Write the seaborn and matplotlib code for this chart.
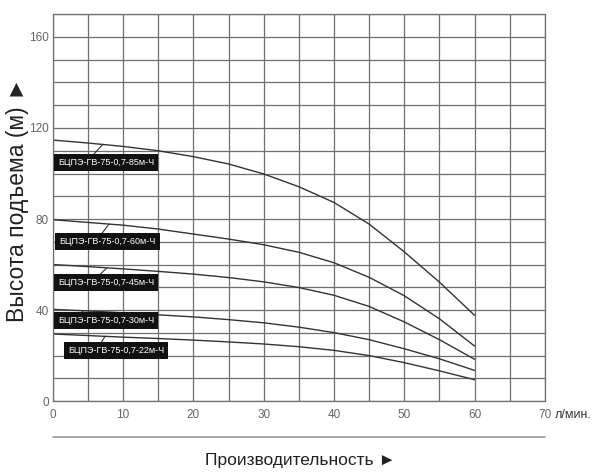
import numpy as np
import matplotlib
matplotlib.use("Agg")
import matplotlib.pyplot as plt
from matplotlib.ticker import MultipleLocator
import pandas as pd
import seaborn as sns

# --- Data (flow l/min -> head m) ---
flow = [0, 5, 10, 15, 20, 25, 30, 35, 40, 45, 50, 55, 60]
head_85 = [114.7, 113.4, 111.9, 110, 107.4, 104.2, 99.8, 94.2, 87.3, 77.8, 65.6, 52.3, 37.7]
head_60 = [79.7, 78.5, 77.3, 75.6, 73.4, 71.2, 68.7, 65.4, 60.8, 54.4, 46.3, 36.2, 24.2]
head_45 = [60, 59.1, 58.1, 57, 55.8, 54.3, 52.4, 49.9, 46.5, 41.6, 34.8, 27, 18.4]
head_30 = [40.3, 39.6, 38.8, 37.9, 37, 35.8, 34.4, 32.5, 30.1, 27, 23, 18.6, 13.5]
head_22 = [29.5, 28.8, 28.1, 27.5, 26.8, 26, 25.1, 23.9, 22.3, 20, 16.9, 13.3, 9.4]

models = ["БЦПЭ-ГВ-75-0,7-85м-Ч", "БЦПЭ-ГВ-75-0,7-60м-Ч", "БЦПЭ-ГВ-75-0,7-45м-Ч",
          "БЦПЭ-ГВ-75-0,7-30м-Ч", "БЦПЭ-ГВ-75-0,7-22м-Ч"]
heads = [head_85, head_60, head_45, head_30, head_22]

# label box centre and leader line (from box -> curve)
label_xy = [(7.6, 105), (7.8, 70), (7.6, 52), (7.6, 35.3), (9.0, 22.4)]
leader = [((5.7, 108), (7.1, 112.8)), ((6.7, 72.5), (8.0, 77.8)),
          ((6.3, 54.5), (7.7, 58.5)), ((3.9, 38.0), (4.3, 39.6)),
          ((6.7, 24.8), (7.4, 28.3))]

df = pd.concat([pd.DataFrame({"flow": flow, "head": h, "model": m})
                for m, h in zip(models, heads)])

sns.set_style("white")
plt.rcParams['font.family'] = ['Liberation Sans', 'DejaVu Sans']

fig = plt.figure(figsize=(6, 4.73), dpi=100)
ax = fig.add_axes([0.088, 0.152, 0.82, 0.818])

sns.lineplot(data=df, x="flow", y="head", units="model", estimator=None,
             color="#333333", linewidth=1.0, ax=ax, legend=False)

ax.set_xlim(0, 70)
ax.set_ylim(0, 170)
ax.xaxis.set_major_locator(MultipleLocator(10))
ax.xaxis.set_minor_locator(MultipleLocator(5))
ax.yaxis.set_major_locator(MultipleLocator(40))
ax.yaxis.set_minor_locator(MultipleLocator(10))
ax.grid(which="both", color="#6e6e6e", linewidth=0.9)
ax.set_axisbelow(True)
for s in ax.spines.values():
    s.set_color("#6e6e6e")
    s.set_linewidth(0.9)
ax.tick_params(which="both", length=0, labelsize=8.5, labelcolor="#666666")
ax.tick_params(axis="y", pad=3)
ax.tick_params(axis="x", pad=6)
ax.set_xlabel("")
ax.set_ylabel("")

for m, (lx, ly), (p0, p1) in zip(models, label_xy, leader):
    ax.plot([p0[0], p1[0]], [p0[1], p1[1]], color="#333333", linewidth=0.8)
    ax.text(lx, ly, m, fontsize=6.5, color="white", ha="center", va="center",
            bbox=dict(boxstyle="square,pad=0.45", fc="#111111", ec="none"))

fig.text(0.029, 0.578, "Высота подъема (м) ►", fontsize=16.5, rotation=90,
         ha="center", va="center", color="#222222")
fig.text(0.925, 0.123, "л/мин.", fontsize=9, color="#333333", va="center")
fig.add_artist(plt.Line2D([0.088, 0.908], [0.076, 0.076], color="#999999", linewidth=1.2))
fig.text(0.5, 0.027, "Производительность ►", fontsize=12.5, ha="center", va="center",
         color="#222222")

fig.savefig("out.png", dpi=100)
